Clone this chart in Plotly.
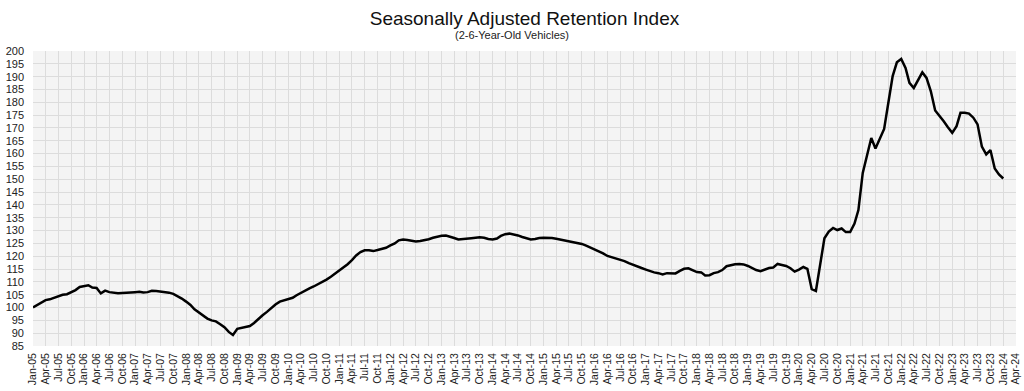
import pandas as pd
import plotly.graph_objects as go

# Monthly index values (Jan-05 .. Jan-24)
v2005 = [100.0, 101.0, 102.2, 102.9, 103.2, 103.8, 104.6, 105.0, 105.2, 105.9, 106.8, 108.0]
v2006 = [108.5, 108.7, 107.8, 107.6, 105.5, 106.6, 106.0, 105.7, 105.6, 105.7, 105.9, 106.0]
v2007 = [106.0, 106.1, 105.9, 106.0, 106.5, 106.4, 106.2, 106.0, 105.8, 105.3, 104.5, 103.5]
v2008 = [102.3, 101.0, 99.3, 98.0, 96.8, 95.7, 95.0, 94.6, 93.5, 92.3, 90.5, 89.3]
v2009 = [91.7, 92.0, 92.3, 92.8, 94.0, 95.6, 97.0, 98.3, 99.8, 101.2, 102.3, 102.8]
v2010 = [103.1, 103.8, 104.8, 105.8, 106.7, 107.5, 108.2, 109.0, 109.9, 110.9, 112.0, 113.2]
v2011 = [114.5, 115.7, 116.9, 118.5, 120.3, 121.6, 122.3, 122.3, 122.0, 122.4, 122.8, 123.3]
v2012 = [124.2, 125.0, 126.2, 126.5, 126.3, 125.9, 125.7, 125.9, 126.2, 126.6, 127.2, 127.7]
v2013 = [128.0, 128.1, 127.7, 127.1, 126.5, 126.6, 126.8, 127.0, 127.2, 127.4, 127.2, 126.7]
v2014 = [126.5, 126.9, 127.9, 128.6, 128.8, 128.5, 128.1, 127.5, 126.9, 126.5, 126.7, 127.1]
v2015 = [127.2, 127.2, 127.1, 126.8, 126.5, 126.1, 125.7, 125.5, 125.3, 124.8, 124.1, 123.4]
v2016 = [122.6, 121.9, 121.1, 120.1, 119.6, 119.1, 118.7, 118.1, 117.3, 116.6, 115.9, 115.4]
v2017 = [114.8, 114.1, 113.7, 113.4, 112.9, 113.4, 113.4, 113.3, 114.3, 115.1, 115.3, 114.6]
v2018 = [113.8, 113.7, 112.5, 112.6, 113.4, 113.8, 114.6, 116.1, 116.6, 116.9, 117.0, 116.8]
v2019 = [116.2, 115.2, 114.6, 114.2, 114.9, 115.4, 115.6, 117.0, 116.6, 116.2, 115.3, 114.0]
v2020 = [114.8, 115.8, 115.1, 107.2, 106.5, 116.5, 127.0, 129.6, 131.0, 130.2, 130.8, 129.4]
v2021 = [129.4, 132.7, 138.0, 152.5, 159.3, 166.1, 162.0, 166.1, 169.6, 179.8, 190.2, 195.6]
v2022 = [196.9, 193.4, 187.6, 185.6, 188.6, 191.7, 189.5, 184.3, 176.8, 174.9, 172.6, 170.3]
v2023 = [168.1, 170.7, 175.9, 175.9, 175.6, 174.0, 171.4, 162.7, 159.7, 161.4, 154.2, 151.9]
v2024 = [150.3]

values = (v2005 + v2006 + v2007 + v2008 + v2009 + v2010 + v2011 + v2012 + v2013 +
          v2014 + v2015 + v2016 + v2017 + v2018 + v2019 + v2020 + v2021 + v2022 +
          v2023 + v2024)
months = pd.date_range("2005-01-01", periods=len(values), freq="MS")

title_text = "Seasonally Adjusted Retention Index"
subtitle_text = "(2-6-Year-Old Vehicles)"

font_family = "Liberation Sans, Arial, sans-serif"

W, H = 1024, 391
M_L, M_R, M_T, M_B = 33, 8, 51, 45
plot_h = H - M_T - M_B

fig = go.Figure()
fig.add_trace(go.Scatter(
    x=months, y=values, mode="lines",
    line=dict(color="#000000", width=2.5),
    hoverinfo="skip", showlegend=False,
))

fig.update_layout(
    width=W, height=H, autosize=False,
    margin=dict(l=M_L, r=M_R, t=M_T, b=M_B, pad=0, autoexpand=False),
    paper_bgcolor="#ffffff",
    plot_bgcolor="#f4f4f4",
    font=dict(family=font_family, color="#222222", size=11),
    showlegend=False,
    title=dict(text=title_text, x=0.5, xanchor="center", xref="paper",
               y=1 - 18 / H, yanchor="middle",
               font=dict(size=19, color="#111111", family=font_family)),
)
fig.add_annotation(text=subtitle_text, xref="paper", yref="paper",
                   x=(512 - M_L) / (W - M_L - M_R), xanchor="center",
                   y=1 + (M_T - 35) / plot_h, yanchor="middle",
                   showarrow=False, font=dict(size=11, color="#222222", family=font_family))

fig.update_xaxes(
    type="date",
    range=["2005-01-01", "2024-04-01"],
    tick0="2005-01-01", dtick="M3", tickformat="%b-%y",
    tickangle=-90, automargin=False,
    showgrid=True, gridcolor="#dcdcdc", gridwidth=1,
    zeroline=False, showline=False,
    ticks="", ticklabelstandoff=4,
    tickfont=dict(size=10.5, color="#222222"),
)
fig.update_yaxes(
    range=[85, 200], tick0=85, dtick=5, automargin=False,
    showgrid=True, gridcolor="#dcdcdc", gridwidth=1,
    zeroline=False, showline=False,
    ticks="", ticklabelstandoff=8,
    tickfont=dict(size=11, color="#222222"),
)

fig.write_html(
    "out.html",
    config={"responsive": False, "displayModeBar": False},
    post_script="document.body.style.margin='0';document.body.style.padding='0';",
)
